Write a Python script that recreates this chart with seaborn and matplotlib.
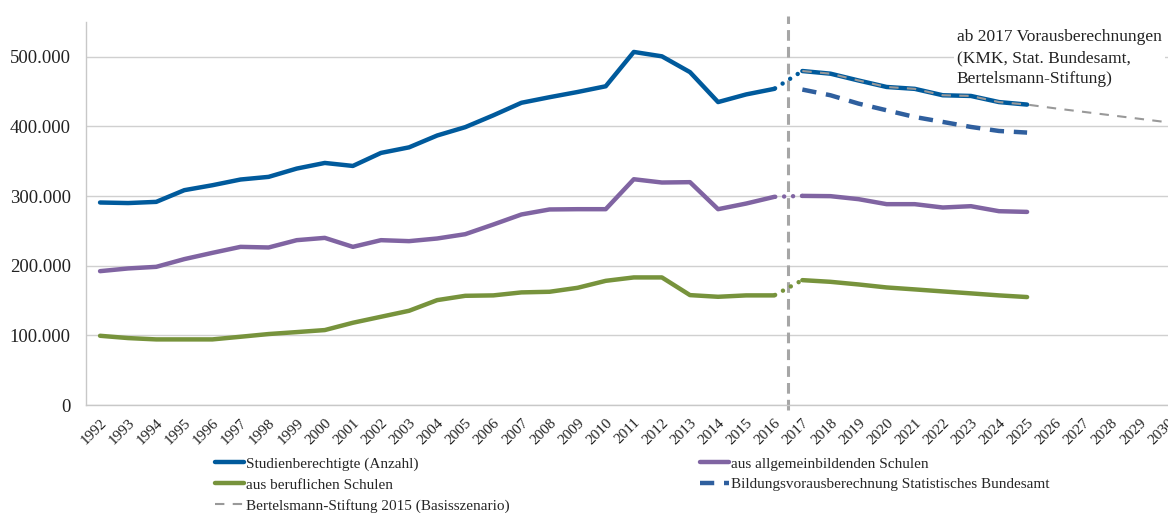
import numpy as np
import pandas as pd
import matplotlib.pyplot as plt
import seaborn as sns
from matplotlib.ticker import FuncFormatter, MultipleLocator

# -----------------------------------------
# Data
# -----------------------------------------
years_hist = list(range(1992, 2017))
years_proj = list(range(2017, 2026))
years_bert = list(range(2017, 2031))

gesamt_hist = [290800, 290000, 291700, 308500, 315600, 323800, 327600, 339500, 347600, 343300,
               362000, 370000, 387000, 399000, 416000, 434000, 442000, 449500, 457700, 507000,
               500700, 478000, 435000, 446000, 454000]
allg_hist = [192200, 196100, 198400, 209500, 218500, 227100, 226200, 236700, 240000, 227100,
             236700, 235300, 239100, 245300, 259200, 273600, 280800, 281200, 281200, 324200,
             319500, 320000, 281200, 289300, 298900]
beruf_hist = [99400, 96100, 94200, 94200, 94200, 98000, 101900, 104700, 107600, 118100,
              126700, 135300, 150600, 156800, 157400, 161700, 162600, 168300, 178300, 183200,
              183200, 157800, 155400, 157400, 157400]

# KMK projection from 2017
gesamt_kmk = [479600, 475800, 466000, 456700, 454000, 444800, 443800, 435000, 431400]
allg_kmk = [300300, 299900, 295600, 288400, 288400, 283600, 285500, 278300, 277300]
beruf_kmk = [179300, 176900, 173100, 168800, 166000, 163100, 160300, 157400, 155000]

# other projections
destatis = [453000, 444800, 432800, 423200, 413600, 406500, 399300, 393500, 391200]
bertelsmann = [479600, 475800, 466000, 456700, 454000, 444800, 443800, 435000, 431400,
               426000, 421000, 416000, 411000, 406000]

col_blue = "#005a9c"
col_purple = "#8064a2"
col_green = "#77933c"
col_destatis = "#2f5f9e"
col_grey = "#a6a6a6"

sns.set_style("white")
plt.rcParams["font.family"] = ["Liberation Serif", "DejaVu Serif"]

fig = plt.figure(figsize=(11.68, 5.13), dpi=100)
W, H = 1168, 513
left, right, top, bottom = 86, 1181.6, 22, 405
ax = fig.add_axes([left / W, 1 - bottom / H, (right - left) / W, (bottom - top) / H])

# -----------------------------------------
# Lines
# -----------------------------------------
series = [
    (gesamt_hist, gesamt_kmk, col_blue, "Studienberechtigte (Anzahl)"),
    (allg_hist, allg_kmk, col_purple, "aus allgemeinbildenden Schulen"),
    (beruf_hist, beruf_kmk, col_green, "aus beruflichen Schulen"),
]
for hist, proj, col, lab in series:
    sns.lineplot(x=years_hist, y=hist, ax=ax, color=col, linewidth=3.2,
                 solid_capstyle="round", label=lab, zorder=3)
    sns.lineplot(x=years_proj, y=proj, ax=ax, color=col, linewidth=3.2,
                 solid_capstyle="round", zorder=3)
    # dotted connector 2016 -> 2017
    ax.plot([years_hist[-1], years_proj[0]], [hist[-1], proj[0]], color=col,
            linewidth=3.2, linestyle=(1.8, (0.01, 2.0)), dash_capstyle="round", zorder=3)

sns.lineplot(x=years_proj, y=destatis, ax=ax, color=col_destatis, linewidth=3.2,
             linestyle=(0, (3.2, 2.2)), label="Bildungsvorausberechnung Statistisches Bundesamt",
             zorder=3)
sns.lineplot(x=years_bert, y=bertelsmann, ax=ax, color="#999999", linewidth=1.5,
             linestyle=(0, (4.5, 4)), label="Bertelsmann-Stiftung 2015 (Basisszenario)",
             zorder=4)

# vertical marker between 2016 and 2017
ax.axvline(2016.5, ymin=-0.013, ymax=1.016, color=col_grey, linewidth=2.2,
           linestyle=(0, (3.5, 2)), clip_on=False, zorder=2)

# -----------------------------------------
# Axes styling
# -----------------------------------------
ax.set_xlim(1991.5, 2030.5)
ax.set_ylim(0, 550000)
ax.set_yticks(np.arange(0, 500001, 100000))
ax.yaxis.set_major_formatter(FuncFormatter(lambda v, p: f"{int(v):,}".replace(",", ".")))
ax.tick_params(axis="y", length=0, pad=11, labelsize=13.5, labelcolor="#222222")

all_years = list(range(1992, 2031))
ax.set_xticks(all_years)
ax.set_xticklabels([str(y) for y in all_years], rotation=45, ha="right",
                   va="top", rotation_mode="anchor")
ax.xaxis.set_minor_locator(MultipleLocator(1, offset=0.5))
ax.tick_params(axis="x", which="major", length=0, pad=8, labelsize=11, labelcolor="#222222")
ax.tick_params(axis="x", which="minor", length=5, width=1, color="#bfbfbf", direction="out")

ax.grid(axis="y", color="#d0d0d0", linewidth=1)
ax.grid(axis="x", visible=False)
ax.set_axisbelow(True)
for s in ["top", "right"]:
    ax.spines[s].set_visible(False)
for s in ["left", "bottom"]:
    ax.spines[s].set_color("#c8c8c8")
    ax.spines[s].set_linewidth(1)
ax.set_xlabel("")
ax.set_ylabel("")

# annotation
ax.text(2022.5, 540000, "ab 2017 Vorausberechnungen\n(KMK, Stat. Bundesamt,\nBertelsmann-Stiftung)",
        ha="left", va="top", fontsize=12.5, color="#222222", linespacing=1.42,
        bbox=dict(facecolor="white", edgecolor="none", pad=2), zorder=1)

# -----------------------------------------
# Legend
# -----------------------------------------
handles, labels = ax.get_legend_handles_labels()
order = [0, 2, 4, 1, 3]
ax.get_legend().remove()
fig.legend([handles[i] for i in order], [labels[i] for i in order],
           loc="upper left", bbox_to_anchor=(215 / W, 1 - 457 / H), ncol=2,
           frameon=False, fontsize=11, handlelength=1.9, handletextpad=0.1,
           labelspacing=0.46, columnspacing=12.5, borderpad=0, borderaxespad=0)

plt.savefig("out.png", dpi=100)
